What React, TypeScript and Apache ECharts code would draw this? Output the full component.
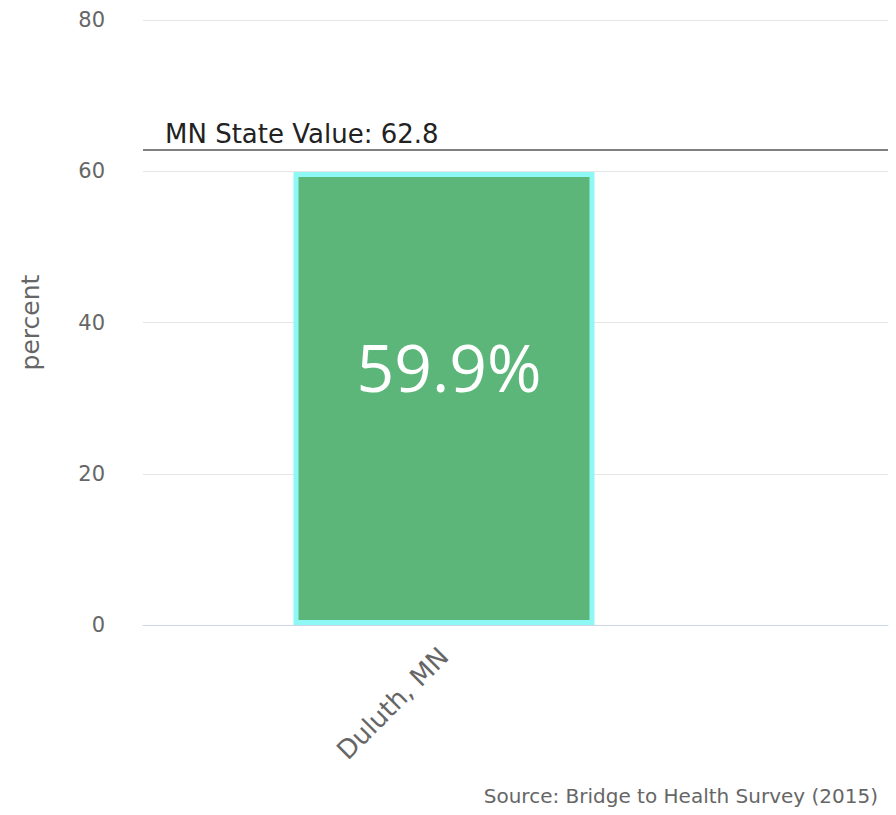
import React, { useEffect, useRef } from "react";
import * as echarts from "echarts";

const categories = ["Duluth, MN"];
const percentValues = [59.9];
const stateValue = 62.8;
const stateLabel = "MN State Value";
const yTicks = { min: 0, max: 80, interval: 20 };
const sourceText = "Source: Bridge to Health Survey (2015)";

const FONT = "'DejaVu Sans', 'Noto Sans', sans-serif";

export default function App() {
  const ref = useRef<HTMLDivElement>(null);
  useEffect(() => {
    if (!ref.current) return;
    const chart = echarts.init(ref.current, null, { renderer: "svg" });
    chart.setOption({
      animation: false,
      backgroundColor: "#ffffff",
      textStyle: { fontFamily: FONT },
      grid: [
        { left: 143, right: 8, top: 20, bottom: 190 },
        { left: 143, right: 151, top: 20, bottom: 190 },
      ],
      xAxis: [
        {
          type: "category",
          gridIndex: 0,
          data: [""],
          axisLine: { show: true, lineStyle: { color: "#ccd6eb", width: 1 } },
          axisTick: { show: false },
          axisLabel: { show: false },
          splitLine: { show: false },
        },
        {
          type: "category",
          gridIndex: 1,
          data: categories,
          axisLine: { show: false },
          axisTick: { show: false },
          axisLabel: {
            rotate: 45,
            margin: 27,
            color: "#666666",
            fontSize: 26,
            fontFamily: FONT,
          },
        },
      ],
      yAxis: [
        {
          type: "value",
          gridIndex: 0,
          min: yTicks.min,
          max: yTicks.max,
          interval: yTicks.interval,
          name: "percent",
          nameLocation: "middle",
          nameGap: 100,
          nameRotate: 90,
          nameTextStyle: { color: "#666666", fontSize: 25, fontFamily: FONT },
          axisLine: { show: false },
          axisTick: { show: false },
          axisLabel: { color: "#666666", fontSize: 21, margin: 38, fontFamily: FONT },
          splitLine: { show: true, lineStyle: { color: "#e6e6e6", width: 1 } },
        },
        {
          type: "value",
          gridIndex: 1,
          min: yTicks.min,
          max: yTicks.max,
          interval: yTicks.interval,
          show: false,
          splitLine: { show: false },
        },
      ],
      series: [
        {
          type: "line",
          xAxisIndex: 0,
          yAxisIndex: 0,
          data: [null],
          showSymbol: false,
          silent: true,
          markLine: {
            silent: true,
            symbol: "none",
            lineStyle: { color: "#808080", width: 2, type: "solid" },
            label: {
              show: true,
              position: "insideStartTop",
              formatter: `${stateLabel}: ${stateValue}`,
              color: "#222222",
              fontSize: 26,
              fontFamily: FONT,
              distance: [22, 3],
            },
            data: [{ yAxis: stateValue }],
          },
        },
        {
          type: "bar",
          xAxisIndex: 1,
          yAxisIndex: 1,
          data: percentValues,
          barWidth: "50%",
          itemStyle: {
            color: "#5db679",
            borderColor: "#8ef8f4",
            borderWidth: 5,
          },
          label: {
            show: true,
            position: ["50%", 194],
            offset: [5, 0],
            align: "center",
            verticalAlign: "middle",
            formatter: (p: any) => `${p.value}%`,
            color: "#ffffff",
            fontSize: 66,
            fontFamily: "'Open Sans', 'Noto Sans', sans-serif",
          },
        },
      ],
      graphic: [
        {
          type: "text",
          right: 18,
          top: 786,
          style: {
            text: sourceText,
            fill: "#666666",
            fontSize: 20,
            fontFamily: FONT,
          },
        },
      ],
    });
    return () => chart.dispose();
  }, []);
  return <div ref={ref} style={{ width: 896, height: 815, position: "absolute", left: 0, top: 0 }} />;
}
